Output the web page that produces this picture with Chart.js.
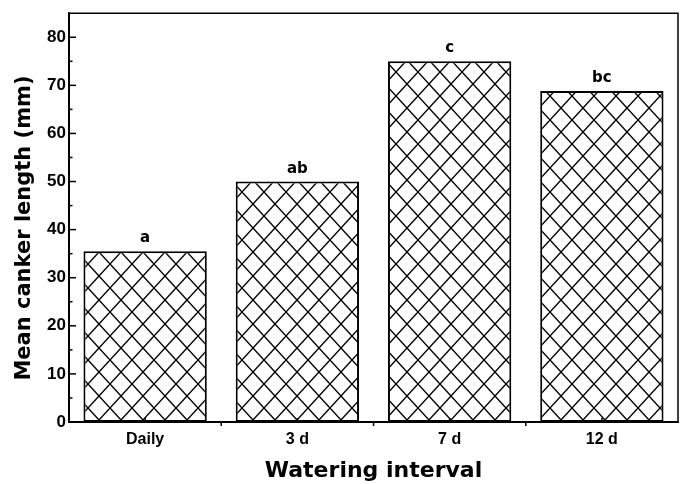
<!DOCTYPE html>
<html>
<head>
<meta charset="utf-8">
<script src="https://cdn.jsdelivr.net/npm/chart.js@4.4.1/dist/chart.umd.min.js"></script>
<style>
  html, body { margin: 0; padding: 0; background: #fff; }
  #wrap { width: 684px; height: 484px; }
</style>
</head>
<body>
<div id="wrap"><canvas id="chart" width="684" height="484"></canvas></div>
<script>
// ===============================
// DATA
// ===============================
const categories = ["Daily", "3 d", "7 d", "12 d"];
const cankerLength = [35.5, 50, 75, 68.8];
const sigLetters = ["a", "ab", "c", "bc"];
const yMin = 0;
const yMax = 85;
const yStep = 10;

const TICK_FONT = { family: "'Liberation Sans', Arial, sans-serif", size: 16, weight: "bold" };
const TITLE_FAMILY = "'DejaVu Sans', sans-serif";

// cross-hatch fill
function makeHatch() {
  const w = 22, h = 24;
  const c = document.createElement("canvas");
  c.width = w; c.height = h;
  const g = c.getContext("2d");
  g.fillStyle = "#fff";
  g.fillRect(0, 0, w, h);
  g.strokeStyle = "#000";
  g.lineWidth = 1.4;
  [-w, 0, w].forEach(dx => {
    g.beginPath();
    g.moveTo(dx, 0); g.lineTo(dx + w, h);
    g.moveTo(dx + w, 0); g.lineTo(dx, h);
    g.stroke();
  });
  return g.createPattern(c, "repeat");
}

// ===============================
// PLUGINS
// ===============================
const framePlugin = {
  id: "frame",
  afterDatasetsDraw(chart) {
    const { ctx, chartArea: a, scales } = chart;
    ctx.save();
    ctx.strokeStyle = "#000";
    ctx.lineCap = "square";

    // top + right
    ctx.lineWidth = 1.5;
    ctx.beginPath();
    ctx.moveTo(a.left, a.top); ctx.lineTo(a.right, a.top); ctx.lineTo(a.right, a.bottom);
    ctx.stroke();

    // left + bottom axes
    ctx.lineWidth = 2;
    ctx.beginPath();
    ctx.moveTo(a.left, a.top); ctx.lineTo(a.left, a.bottom); ctx.lineTo(a.right, a.bottom);
    ctx.stroke();

    // y ticks, inward: major every step, minor half way
    ctx.lineWidth = 1.5;
    ctx.lineCap = "butt";
    const y = scales.y;
    for (let v = yMin; v < yMax; v += yStep / 2) {
      const py = y.getPixelForValue(v);
      const len = v % yStep === 0 ? 7 : 3.5;
      ctx.beginPath();
      ctx.moveTo(a.left, py); ctx.lineTo(a.left + len, py);
      ctx.stroke();
    }

    // x ticks: centers up, boundaries down
    const x = scales.x;
    categories.forEach((_, i) => {
      const px = x.getPixelForValue(i);
      ctx.beginPath();
      ctx.moveTo(px, a.bottom); ctx.lineTo(px, a.bottom - 4);
      ctx.stroke();
      if (i < categories.length - 1) {
        const bx = x.getPixelForValue(i + 0.5);
        ctx.beginPath();
        ctx.moveTo(bx, a.bottom); ctx.lineTo(bx, a.bottom + 4);
        ctx.stroke();
      }
    });

    // letters over bars
    ctx.fillStyle = "#000";
    ctx.font = "bold 15px " + TITLE_FAMILY;
    ctx.textAlign = "center";
    ctx.textBaseline = "alphabetic";
    chart.getDatasetMeta(0).data.forEach((bar, i) => {
      ctx.fillText(sigLetters[i], bar.x, bar.y - 9);
    });

    // y title
    ctx.font = "bold 21px " + TITLE_FAMILY;
    ctx.textBaseline = "middle";
    ctx.translate(25, 228);
    ctx.rotate(-Math.PI / 2);
    ctx.fillText("Mean canker length (mm)", 0, 0);
    ctx.restore();
  }
};

// ===============================
// CHART
// ===============================
const ctx = document.getElementById("chart");
new Chart(ctx, {
  type: "bar",
  data: {
    labels: categories,
    datasets: [{
      data: cankerLength,
      backgroundColor: makeHatch(),
      borderColor: "#000",
      borderWidth: 2,
      borderSkipped: false,
      categoryPercentage: 1,
      barPercentage: 0.81
    }]
  },
  options: {
    responsive: false,
    animation: false,
    devicePixelRatio: 1,
    layout: { padding: { top: 13, right: 6, left: 0, bottom: 0 } },
    plugins: {
      legend: { display: false },
      tooltip: { enabled: false }
    },
    scales: {
      x: {
        grid: { display: false },
        border: { display: false },
        ticks: { color: "#000", font: TICK_FONT, padding: 0, maxRotation: 0 },
        title: {
          display: true,
          text: "Watering interval",
          color: "#000",
          font: { family: TITLE_FAMILY, size: 22, weight: "bold" },
          padding: { top: 0, bottom: 0 }
        },
        afterFit(scale) { scale.height = 62; }
      },
      y: {
        min: yMin,
        max: yMax,
        border: { display: false },
        grid: { display: false, drawTicks: false },
        ticks: { stepSize: yStep, color: "#000", font: { ...TICK_FONT, size: 17 }, padding: 3 },
        afterBuildTicks(scale) {
          scale.ticks = scale.ticks.filter(t => t.value % yStep === 0);
        },
        afterFit(scale) { scale.width = 69; }
      }
    }
  },
  plugins: [framePlugin]
});
</script>
</body>
</html>
